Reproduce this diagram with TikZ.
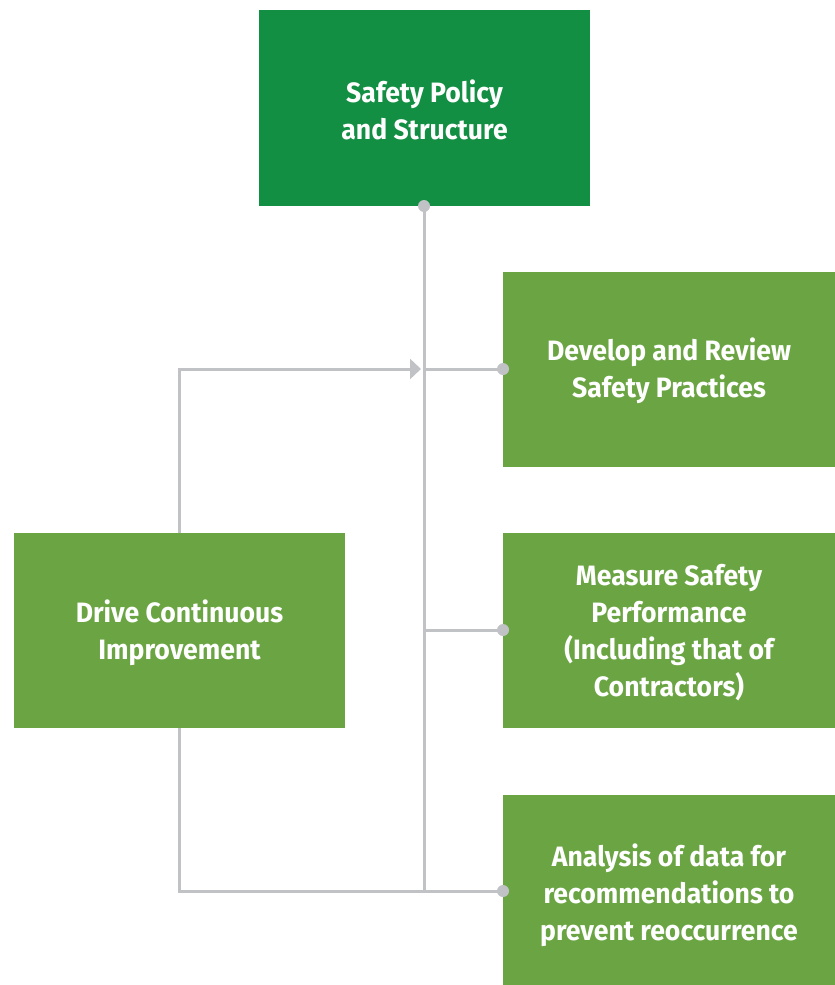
\documentclass[tikz,border=0pt]{standalone}
\usepackage{fontspec}
\setmainfont{Fira Sans}
\newfontfamily\lbl{Fira Sans}[FakeStretch=0.95]
\usetikzlibrary{arrows.meta}
\definecolor{darkg}{HTML}{138F43}
\definecolor{lightg}{HTML}{6BA543}
\definecolor{linegray}{HTML}{C1C2C5}
\tikzset{
  box/.style={fill=#1, draw=none, text=white, align=center, inner sep=0pt,
    font=\lbl\fontsize{28}{37}\selectfont\bfseries},
  conn/.style={draw=linegray, line width=3pt},
  dot/.style={circle, fill=linegray, inner sep=0pt, minimum size=12pt},
}
\begin{document}
\begin{tikzpicture}[x=1pt,y=-1pt]
\useasboundingbox (0,0) rectangle (835,985);
\fill[darkg] (259,10) rectangle (590,206);
\node[box=darkg] (top) at (424.5,110) {Safety Policy\\and Structure};
\fill[lightg] (503,272) rectangle (835,467);
\node[box=lightg] (dev) at (669,371) {Develop and Review\\Safety Practices};
\fill[lightg] (503,533) rectangle (835,728);
\node[box=lightg] (meas) at (669,633) {Measure Safety\\Performance\\(Including that of\\Contractors)};
\fill[lightg] (503,795) rectangle (835,985);
\node[box=lightg] (ana) at (669,895) {Analysis of data for\\recommendations to\\prevent reoccurrence};
\fill[lightg] (14,533) rectangle (345,728);
\node[box=lightg] (drive) at (179.5,633) {Drive Continuous\\Improvement};
\coordinate (ttop) at (424,206);
\coordinate (tbot) at (424,891);
\coordinate (j1) at (424,369);
\coordinate (j2) at (424,630);
\coordinate (d1) at (503,369);
\coordinate (d2) at (503,630);
\coordinate (d3) at (503,891);
\coordinate (dtop) at (179,533);
\coordinate (dbot) at (179,728);
\draw[conn] (ttop) -- (tbot);
\draw[conn] (j1) -- (d1);
\draw[conn] (j2) -- (d2);
\draw[conn] (dbot) -- (179,891) -- (d3);
\draw[conn, -{Triangle[length=11pt,width=20pt]}] (dtop) -- (179,369) -- (421,369);
\node[dot] at (ttop) {};
\node[dot] at (d1) {};
\node[dot] at (d2) {};
\node[dot] at (d3) {};
\end{tikzpicture}
\end{document}
